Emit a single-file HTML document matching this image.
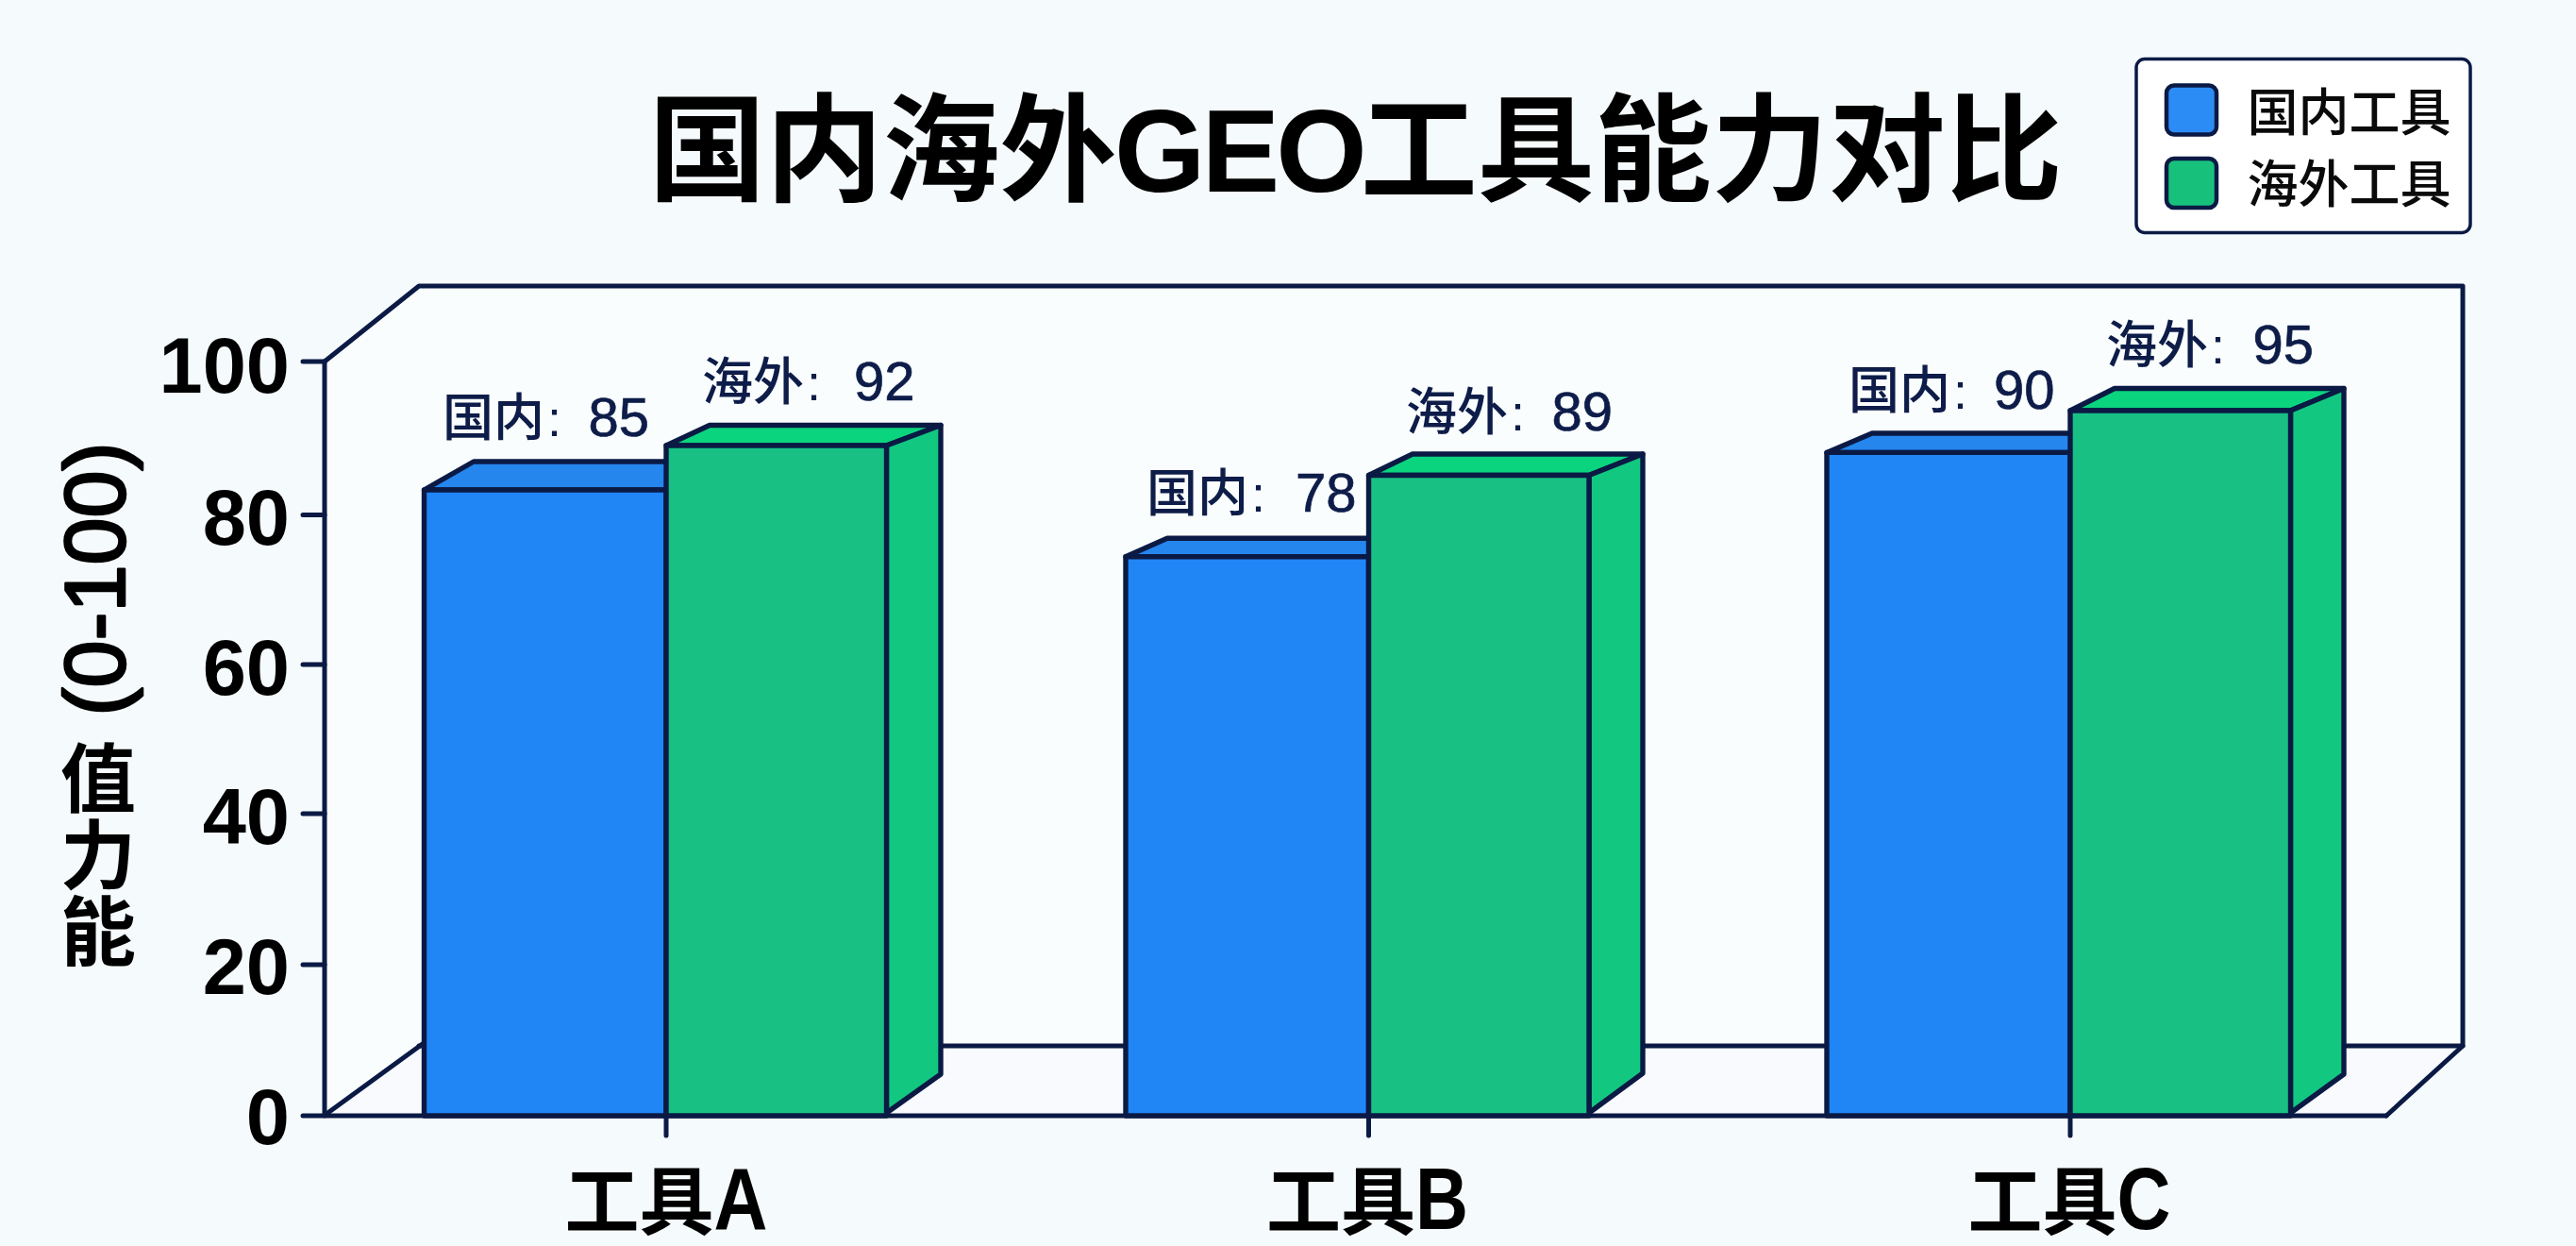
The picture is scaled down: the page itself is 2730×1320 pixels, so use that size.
<!DOCTYPE html>
<html lang="zh-CN">
<head>
<meta charset="utf-8">
<title>国内海外GEO工具能力对比</title>
<style>
  html, body { margin: 0; padding: 0; }
  body { width: 2730px; height: 1320px; overflow: hidden; background: #f5fafc; }
  svg { display: block; }
  text { font-family: "Liberation Sans", "Noto Sans CJK SC", sans-serif; }
  .ln { stroke: #0a1a44; stroke-width: 5; fill: none; stroke-linecap: round; stroke-linejoin: round; }
  .bar { stroke: #0a1a44; stroke-width: 5.4; stroke-linejoin: round; }
  .bf { fill: #2085f5; }
  .bt { fill: #2586ee; }
  .gf { fill: #18c084; }
  .gt { fill: #0bd47e; }
  .gs { fill: #12c880; }
  .title { font-size: 124px; font-weight: 700; fill: #000; }
  .ytick { font-size: 83px; font-weight: 700; fill: #000; text-anchor: end; }
  .xlab { font-size: 79px; font-weight: 700; fill: #000; text-anchor: middle; }
  .ylab { font-size: 80px; font-weight: 700; fill: #000; text-anchor: middle; }
  .dl { font-size: 54px; font-weight: 500; fill: #0d1c48; }
  .dl .n { font-size: 58px; stroke: #0d1c48; stroke-width: 0.7px; }
  .lg { font-size: 54px; font-weight: 500; fill: #0a0a0a; }
</style>
</head>
<body>
<svg width="2730" height="1320" viewBox="0 0 2730 1320">
  <!-- back wall + floor -->
  <polygon points="344,383 444,303 2610,303 2610,1108 2529,1182 344,1182" fill="#fafdfe"/>
  <polygon points="344,1182 444,1108 2610,1108 2529,1182" fill="#f8fafd"/>
  <path class="ln" d="M344,383 L444,303 L2610,303 L2610,1108 L2529,1182"/>
  <path class="ln" d="M346,1180 L449,1105"/>
  <path class="ln" d="M444,1108 L2610,1108"/>
  <!-- axes -->
  <path class="ln" d="M344,383 L344,1182"/>
  <path class="ln" d="M321,1182 L2529,1182"/>
  <path class="ln" d="M321,383 H344 M321,545.5 H344 M321,704 H344 M321,862 H344 M321,1022 H344"/>
  <path class="ln" d="M706,1182 V1203 M1450.5,1182 V1203 M2194,1182 V1203"/>

  <!-- group A -->
  <g class="bar">
    <polygon class="bt" points="449.5,519 502,489 760,489 706,519"/>
    <rect class="bf" x="449.5" y="519" width="256.5" height="663"/>
    <polygon class="gt" points="706,472 752,450.5 997,450.5 939.5,472"/>
    <polygon class="gs" points="939.5,472 997,450.5 997,1138 939.5,1179"/>
    <rect class="gf" x="706" y="472" width="233.5" height="710"/>
  </g>
  <!-- group B -->
  <g class="bar">
    <polygon class="bt" points="1193,589.7 1237,570.3 1500,570.3 1450.5,589.7"/>
    <rect class="bf" x="1193" y="589.7" width="257.5" height="592.3"/>
    <polygon class="gt" points="1450.5,503.5 1497,481 1741,481 1684,503.5"/>
    <polygon class="gs" points="1684,503.5 1741,481 1741,1137 1684,1179"/>
    <rect class="gf" x="1450.5" y="503.5" width="233.5" height="678.5"/>
  </g>
  <!-- group C -->
  <g class="bar">
    <polygon class="bt" points="1936,479.4 1984,459 2245,459 2194,479.4"/>
    <rect class="bf" x="1936" y="479.4" width="258" height="702.6"/>
    <polygon class="gt" points="2194,435 2241,411.5 2484,411.5 2427.5,435"/>
    <polygon class="gs" points="2427.5,435 2484,411.5 2484,1138 2427.5,1179"/>
    <rect class="gf" x="2194" y="435" width="233.5" height="747"/>
  </g>

  <!-- title -->
  <text class="title" y="203"><tspan x="687.5">国内海外</tspan><tspan dx="-2.5" letter-spacing="-4">GEO</tspan><tspan dx="-3">工具能力对比</tspan></text>

  <!-- y tick labels -->
  <text class="ytick" x="307" y="416">100</text>
  <text class="ytick" x="307" y="577">80</text>
  <text class="ytick" x="307" y="736">60</text>
  <text class="ytick" x="307" y="894">40</text>
  <text class="ytick" x="307" y="1053">20</text>
  <text class="ytick" x="307" y="1212">0</text>

  <!-- y axis title -->
  <text class="ylab" style="font-size:90px;font-weight:400;stroke:#000;stroke-width:2.6px;stroke-linejoin:round" transform="translate(132,613.5) rotate(-90)">(0-100)</text>
  <text class="ylab"><tspan x="104" y="854">值</tspan><tspan x="104" y="935">力</tspan><tspan x="104" y="1016">能</tspan></text>

  <!-- x labels -->
  <text class="xlab" x="706" y="1302">工具<tspan font-size="92" textLength="57" lengthAdjust="spacingAndGlyphs">A</tspan></text>
  <text class="xlab" x="1449" y="1302">工具<tspan font-size="92" textLength="56" lengthAdjust="spacingAndGlyphs">B</tspan></text>
  <text class="xlab" x="2193" y="1302">工具<tspan font-size="92" textLength="57" lengthAdjust="spacingAndGlyphs">C</tspan></text>

  <!-- data labels -->
  <text class="dl" x="469" y="462">国内<tspan dx="3">:</tspan> <tspan class="n" x="623.5">85</tspan></text>
  <text class="dl" x="744" y="424">海外<tspan dx="3">:</tspan> <tspan class="n" x="904.9">92</tspan></text>
  <text class="dl" x="1215" y="542">国内<tspan dx="3">:</tspan> <tspan class="n" x="1372.9">78</tspan></text>
  <text class="dl" x="1490" y="456">海外<tspan dx="3">:</tspan> <tspan class="n" x="1644.5">89</tspan></text>
  <text class="dl" x="1959" y="433">国内<tspan dx="3">:</tspan> <tspan class="n" x="2112.9">90</tspan></text>
  <text class="dl" x="2232" y="385">海外<tspan dx="3">:</tspan> <tspan class="n" x="2387.4">95</tspan></text>

  <!-- legend -->
  <rect x="2264" y="62.5" width="354" height="184" rx="9" fill="#ffffff" stroke="#0a1a44" stroke-width="3.5"/>
  <rect x="2296" y="90.5" width="53" height="52" rx="8" fill="#2c8cf6" stroke="#0a1a44" stroke-width="4.5"/>
  <rect x="2296" y="168" width="53" height="52" rx="8" fill="#17c17c" stroke="#0a1a44" stroke-width="4.5"/>
  <text class="lg" x="2381.5" y="138.5">国内工具</text>
  <text class="lg" x="2381.5" y="214.5">海外工具</text>
</svg>
</body>
</html>
